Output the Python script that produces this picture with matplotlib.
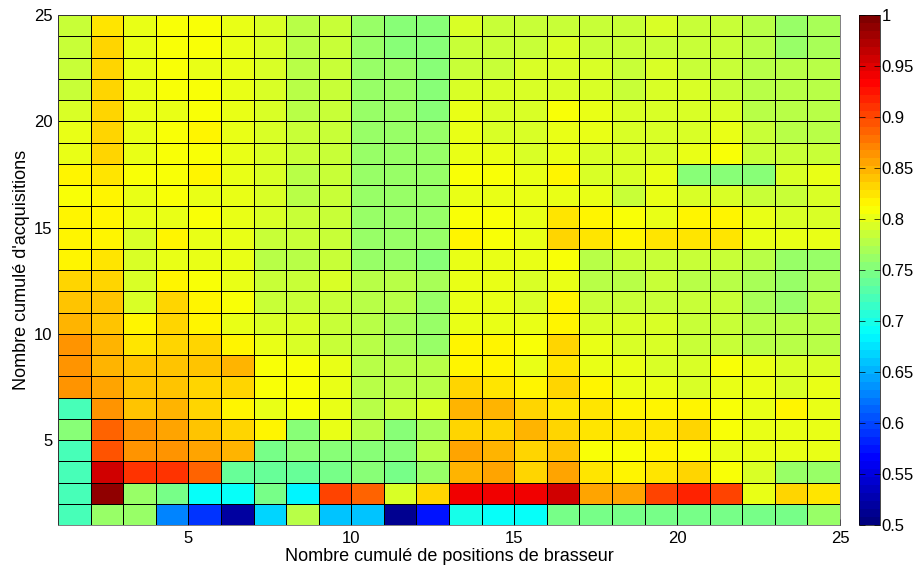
import numpy as np
import matplotlib
matplotlib.use('Agg')
import matplotlib.pyplot as plt
from matplotlib.colors import LinearSegmentedColormap

plt.rcParams['font.family'] = ['Liberation Sans', 'DejaVu Sans']

# cell edges (pcolor style, 25 points -> 24 cells)
x_edges = np.arange(1, 26)
y_edges = np.arange(1, 26)
x_ticks = [5, 10, 15, 20, 25]
y_ticks = [5, 10, 15, 20, 25]
cb_ticks = [0.5, 0.55, 0.6, 0.65, 0.7, 0.75, 0.8, 0.85, 0.9, 0.95, 1]
cb_labels = ['0.5', '0.55', '0.6', '0.65', '0.7', '0.75', '0.8', '0.85', '0.9', '0.95', '1']

# values, one row per acquisition count (bottom -> top)
row01 = [0.725, 0.76, 0.76, 0.63, 0.59, 0.52, 0.665, 0.78, 0.66, 0.66, 0.51, 0.575, 0.70, 0.695, 0.695, 0.745, 0.745, 0.745, 0.745, 0.745, 0.745, 0.748, 0.745, 0.76]
row02 = [0.725, 0.99, 0.76, 0.745, 0.69, 0.69, 0.745, 0.687, 0.9, 0.885, 0.79, 0.833, 0.94, 0.938, 0.938, 0.96, 0.856, 0.856, 0.906, 0.915, 0.906, 0.797, 0.835, 0.825]
row03 = [0.72, 0.956, 0.912, 0.912, 0.887, 0.74, 0.735, 0.74, 0.745, 0.755, 0.745, 0.76, 0.85, 0.857, 0.835, 0.855, 0.827, 0.815, 0.827, 0.83, 0.805, 0.79, 0.765, 0.765]
row04 = [0.72, 0.893, 0.865, 0.865, 0.855, 0.845, 0.745, 0.755, 0.755, 0.75, 0.75, 0.775, 0.857, 0.845, 0.835, 0.84, 0.805, 0.81, 0.815, 0.805, 0.803, 0.8, 0.797, 0.797]
row05 = [0.75, 0.89, 0.86, 0.858, 0.837, 0.835, 0.815, 0.75, 0.8, 0.78, 0.75, 0.77, 0.835, 0.83, 0.845, 0.833, 0.827, 0.827, 0.827, 0.83, 0.81, 0.8, 0.797, 0.797]
row06 = [0.72, 0.86, 0.84, 0.845, 0.83, 0.815, 0.8, 0.805, 0.797, 0.78, 0.785, 0.795, 0.848, 0.845, 0.833, 0.825, 0.827, 0.815, 0.815, 0.815, 0.805, 0.8, 0.815, 0.797]
row07 = [0.865, 0.855, 0.84, 0.837, 0.835, 0.835, 0.805, 0.805, 0.797, 0.78, 0.78, 0.78, 0.83, 0.827, 0.815, 0.83, 0.815, 0.8, 0.797, 0.795, 0.797, 0.797, 0.795, 0.797]
row08 = [0.865, 0.845, 0.837, 0.837, 0.84, 0.845, 0.805, 0.805, 0.797, 0.775, 0.775, 0.775, 0.815, 0.815, 0.803, 0.825, 0.8, 0.797, 0.795, 0.795, 0.805, 0.797, 0.79, 0.795]
row09 = [0.865, 0.845, 0.825, 0.835, 0.835, 0.815, 0.797, 0.79, 0.785, 0.775, 0.77, 0.765, 0.815, 0.815, 0.81, 0.83, 0.8, 0.795, 0.79, 0.785, 0.785, 0.78, 0.78, 0.775]
row10 = [0.85, 0.84, 0.815, 0.83, 0.82, 0.8, 0.795, 0.79, 0.783, 0.775, 0.77, 0.76, 0.8, 0.797, 0.797, 0.815, 0.79, 0.79, 0.79, 0.787, 0.787, 0.78, 0.78, 0.775]
row11 = [0.84, 0.84, 0.795, 0.83, 0.82, 0.805, 0.787, 0.787, 0.783, 0.775, 0.775, 0.76, 0.8, 0.797, 0.795, 0.815, 0.787, 0.787, 0.787, 0.787, 0.787, 0.77, 0.765, 0.775]
row12 = [0.83, 0.835, 0.795, 0.815, 0.805, 0.798, 0.785, 0.785, 0.795, 0.778, 0.775, 0.77, 0.797, 0.797, 0.79, 0.8, 0.78, 0.78, 0.783, 0.78, 0.78, 0.77, 0.765, 0.77]
row13 = [0.815, 0.825, 0.795, 0.8, 0.8, 0.797, 0.78, 0.78, 0.787, 0.765, 0.765, 0.755, 0.797, 0.797, 0.797, 0.805, 0.78, 0.785, 0.785, 0.783, 0.785, 0.775, 0.765, 0.765]
row14 = [0.815, 0.815, 0.795, 0.815, 0.8, 0.797, 0.787, 0.785, 0.787, 0.765, 0.765, 0.76, 0.815, 0.805, 0.8, 0.835, 0.825, 0.815, 0.825, 0.827, 0.825, 0.8, 0.8, 0.8]
row15 = [0.815, 0.815, 0.797, 0.8, 0.805, 0.797, 0.79, 0.783, 0.785, 0.765, 0.765, 0.76, 0.805, 0.805, 0.8, 0.827, 0.815, 0.81, 0.8, 0.815, 0.815, 0.797, 0.795, 0.795]
row16 = [0.805, 0.815, 0.797, 0.805, 0.803, 0.797, 0.79, 0.78, 0.787, 0.765, 0.765, 0.76, 0.8, 0.797, 0.797, 0.8, 0.797, 0.787, 0.797, 0.793, 0.793, 0.785, 0.787, 0.79]
row17 = [0.815, 0.827, 0.805, 0.805, 0.815, 0.8, 0.79, 0.78, 0.787, 0.765, 0.765, 0.76, 0.805, 0.805, 0.8, 0.815, 0.795, 0.793, 0.797, 0.755, 0.755, 0.755, 0.795, 0.797]
row18 = [0.8, 0.835, 0.8, 0.805, 0.81, 0.8, 0.795, 0.783, 0.785, 0.765, 0.765, 0.76, 0.8, 0.797, 0.795, 0.8, 0.795, 0.79, 0.793, 0.797, 0.805, 0.787, 0.785, 0.787]
row19 = [0.8, 0.83, 0.8, 0.805, 0.815, 0.797, 0.795, 0.783, 0.785, 0.765, 0.765, 0.76, 0.8, 0.795, 0.79, 0.8, 0.797, 0.79, 0.79, 0.793, 0.797, 0.785, 0.78, 0.78]
row20 = [0.79, 0.83, 0.797, 0.8, 0.805, 0.797, 0.793, 0.78, 0.785, 0.765, 0.765, 0.752, 0.797, 0.793, 0.79, 0.805, 0.797, 0.79, 0.79, 0.795, 0.795, 0.78, 0.78, 0.78]
row21 = [0.787, 0.83, 0.8, 0.805, 0.805, 0.797, 0.79, 0.78, 0.785, 0.765, 0.76, 0.75, 0.793, 0.79, 0.79, 0.795, 0.79, 0.787, 0.79, 0.79, 0.787, 0.78, 0.775, 0.775]
row22 = [0.787, 0.83, 0.8, 0.805, 0.803, 0.797, 0.795, 0.78, 0.787, 0.765, 0.76, 0.755, 0.787, 0.787, 0.79, 0.793, 0.79, 0.787, 0.79, 0.787, 0.787, 0.78, 0.775, 0.775]
row23 = [0.787, 0.83, 0.8, 0.805, 0.805, 0.797, 0.795, 0.78, 0.785, 0.765, 0.752, 0.75, 0.787, 0.787, 0.787, 0.79, 0.787, 0.787, 0.787, 0.787, 0.787, 0.775, 0.765, 0.77]
row24 = [0.787, 0.827, 0.8, 0.805, 0.805, 0.797, 0.795, 0.78, 0.787, 0.765, 0.755, 0.755, 0.79, 0.787, 0.787, 0.787, 0.787, 0.787, 0.793, 0.787, 0.787, 0.775, 0.765, 0.767]

Z = np.array([row01, row02, row03, row04, row05, row06, row07, row08, row09, row10, row11, row12,
              row13, row14, row15, row16, row17, row18, row19, row20, row21, row22, row23, row24])

# matlab style jet, 64 levels
mjet = LinearSegmentedColormap('mjet', {
    'red':   [(0, 0, 0), (0.375, 0, 0), (0.625, 1, 1), (0.875, 1, 1), (1, 0.5, 0.5)],
    'green': [(0, 0, 0), (0.125, 0, 0), (0.375, 1, 1), (0.625, 1, 1), (0.875, 0, 0), (1, 0, 0)],
    'blue':  [(0, 0.5, 0.5), (0.125, 1, 1), (0.375, 1, 1), (0.625, 0, 0), (1, 0, 0)]}, N=64)

fig = plt.figure(figsize=(9.21, 5.72), dpi=100)
ax = fig.add_axes([58/921, 47/572, 782/921, 510/572])
cax = fig.add_axes([859/921, 47/572, 21/921, 510/572])

pc = ax.pcolormesh(x_edges, y_edges, Z, cmap=mjet, vmin=0.5, vmax=1,
                   edgecolors='k', linewidth=0.55)
ax.set_xlim(1, 25)
ax.set_ylim(1, 25)
ax.set_xticks(x_ticks)
ax.set_yticks(y_ticks)
ax.tick_params(direction='in', length=4, width=0.5, labelsize=12, top=False, right=False, pad=4)
for s in ax.spines.values():
    s.set_linewidth(0.5)
    s.set_color('0.3')
ax.set_xlabel("Nombre cumulé de positions de brasseur", fontsize=13, labelpad=2)
ax.set_ylabel("Nombre cumulé d'acquisitions", fontsize=13, labelpad=3)

cb = fig.colorbar(pc, cax=cax, ticks=cb_ticks)
cb.ax.set_yticklabels(cb_labels)
cb.ax.tick_params(direction='in', length=4, width=0.5, labelsize=12, left=True, right=True, pad=1)
cb.outline.set_linewidth(0.5)

fig.savefig('out.png', dpi=100)
